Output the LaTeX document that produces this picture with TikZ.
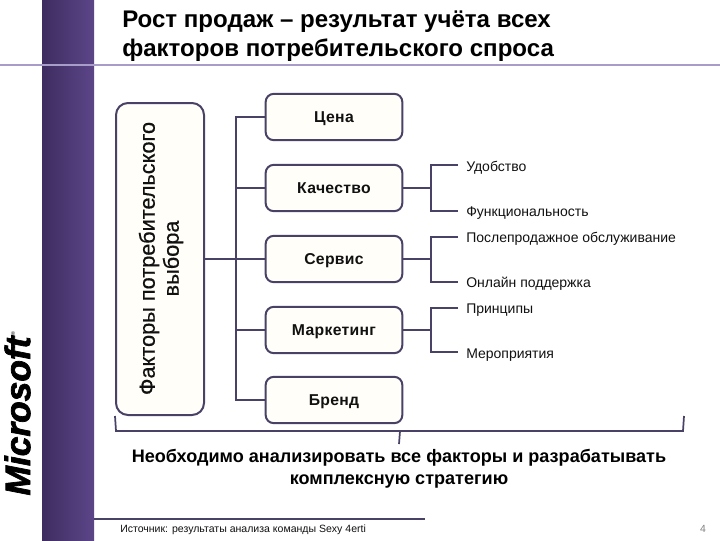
\documentclass[tikz,border=0pt]{standalone}
\usepackage{fontspec}
\setmainfont{Liberation Sans}
\newfontfamily\factorf{Liberation Sans}[LetterSpace=2]
\newfontfamily\sidef{Liberation Sans}[FakeBold=0.5]
\newfontfamily\logof{Liberation Sans}[BoldItalicFeatures={FakeBold=2}]
\definecolor{edgec}{HTML}{4A4266}
\definecolor{barL}{HTML}{3E2C60}
\definecolor{barR}{HTML}{5C4688}
\definecolor{ruleC}{HTML}{A89CC8}
\definecolor{txt}{HTML}{111111}
\definecolor{cream}{HTML}{FFFEF8}
\tikzset{
  factor/.style={draw=edgec,fill=cream,line width=1.5pt,rounded corners=6pt,minimum width=102.5pt,minimum height=34.7pt,inner sep=0pt,text height=8.5pt,text depth=0pt,font=\factorf\bfseries\fontsize{11.8}{13}\selectfont,text=txt},
  link/.style={draw=edgec,line width=1.3pt},
  sublabel/.style={anchor=west,inner sep=0pt,font=\fontsize{10.5}{12}\selectfont,text=txt},
  titletext/.style={anchor=base west,inner sep=0pt,font=\bfseries\fontsize{18.05}{20}\selectfont,text=black},
  conclusion/.style={inner sep=0pt,font=\bfseries\fontsize{13.55}{15}\selectfont,text=black},
}
\begin{document}
\begin{tikzpicture}[x=0.75pt,y=-0.75pt]
\useasboundingbox (0,0) rectangle (720,540);
\fill[white] (0,0) rectangle (720,540);
% side band and rule
\shade[left color=barL,right color=barR] (42,0) rectangle (94,540);
\draw[ruleC,line width=1.1pt] (0,65) -- (720,65);
% logo
\node[rotate=90,inner sep=0pt,text=black,font=\logof\bfseries\itshape\fontsize{26.5}{27}\selectfont] (logo) at (17.5,416) {Microsoft};
\node[inner sep=0pt,font=\fontsize{4}{4}\selectfont] (reg) at (13,334) {®};
% title
\node[titletext] (t1) at (122,27.5) {Рост продаж – результат учёта всех};
\node[titletext] (t2) at (122,56.5) {факторов потребительского спроса};
% left box
\node[draw=edgec,fill=cream,line width=1.5pt,rounded corners=9pt,minimum width=66pt,minimum height=234pt,inner sep=0pt] (side) at (160,259) {};
\node[rotate=90,align=center,inner sep=0pt,font=\sidef\fontsize{16.3}{18}\selectfont,text=txt] (sidetext) at (161,258.5) {Факторы потребительского\\выбора};
% factor boxes
\node[factor] (price) at (334,117) {Цена};
\node[factor] (quality) at (334,188) {Качество};
\node[factor] (service) at (334,259) {Сервис};
\node[factor] (marketing) at (334,330) {Маркетинг};
\node[factor] (brand) at (334,400) {Бренд};
% sublabels
\node[sublabel] (l1) at (466,168) {Удобство};
\node[sublabel] (l2) at (466,213) {Функциональность};
\node[sublabel] (l3) at (466,239) {Послепродажное обслуживание};
\node[sublabel] (l4) at (466,284) {Онлайн поддержка};
\node[sublabel] (l5) at (466,310) {Принципы};
\node[sublabel] (l6) at (466,355) {Мероприятия};
% spine
\coordinate (spT) at (236,117);
\coordinate (spB) at (236,400);
\draw[link] (price.west) -- (spT) -- (spB) -- (brand.west);
\draw[link] (quality.west) -- (236,188);
\draw[link] (side.east) -- (service.west);
\draw[link] (marketing.west) -- (236,330);
% branches
\draw[link] (quality.east) -- (431,188);
\draw[link] (458,165) -- (431,165) -- (431,211) -- (458,211);
\draw[link] (service.east) -- (431,259);
\draw[link] (458,237) -- (431,237) -- (431,282) -- (458,282);
\draw[link] (marketing.east) -- (431,330);
\draw[link] (458,308) -- (431,308) -- (431,352) -- (458,352);
% bracket
\draw[link] (115,416) -- (116,431) -- (683,431) -- (684,416);
\draw[link] (400,431) -- (399,444);
% conclusion
\node[conclusion] (c1) at (399,458) {Необходимо анализировать все факторы и разрабатывать};
\node[conclusion] (c2) at (399,481) {комплексную стратегию};
% footer
\draw[edgec,line width=1.1pt] (94,519) -- (425,519);
\node[anchor=west,inner sep=0pt,font=\fontsize{7.9}{9}\selectfont,text=txt] (src) at (120,530) {Источник: результаты анализа команды Sexy 4erti};
\node[inner sep=0pt,font=\fontsize{7.8}{9}\selectfont,text=gray] (pg) at (703,529) {4};
\end{tikzpicture}
\end{document}
